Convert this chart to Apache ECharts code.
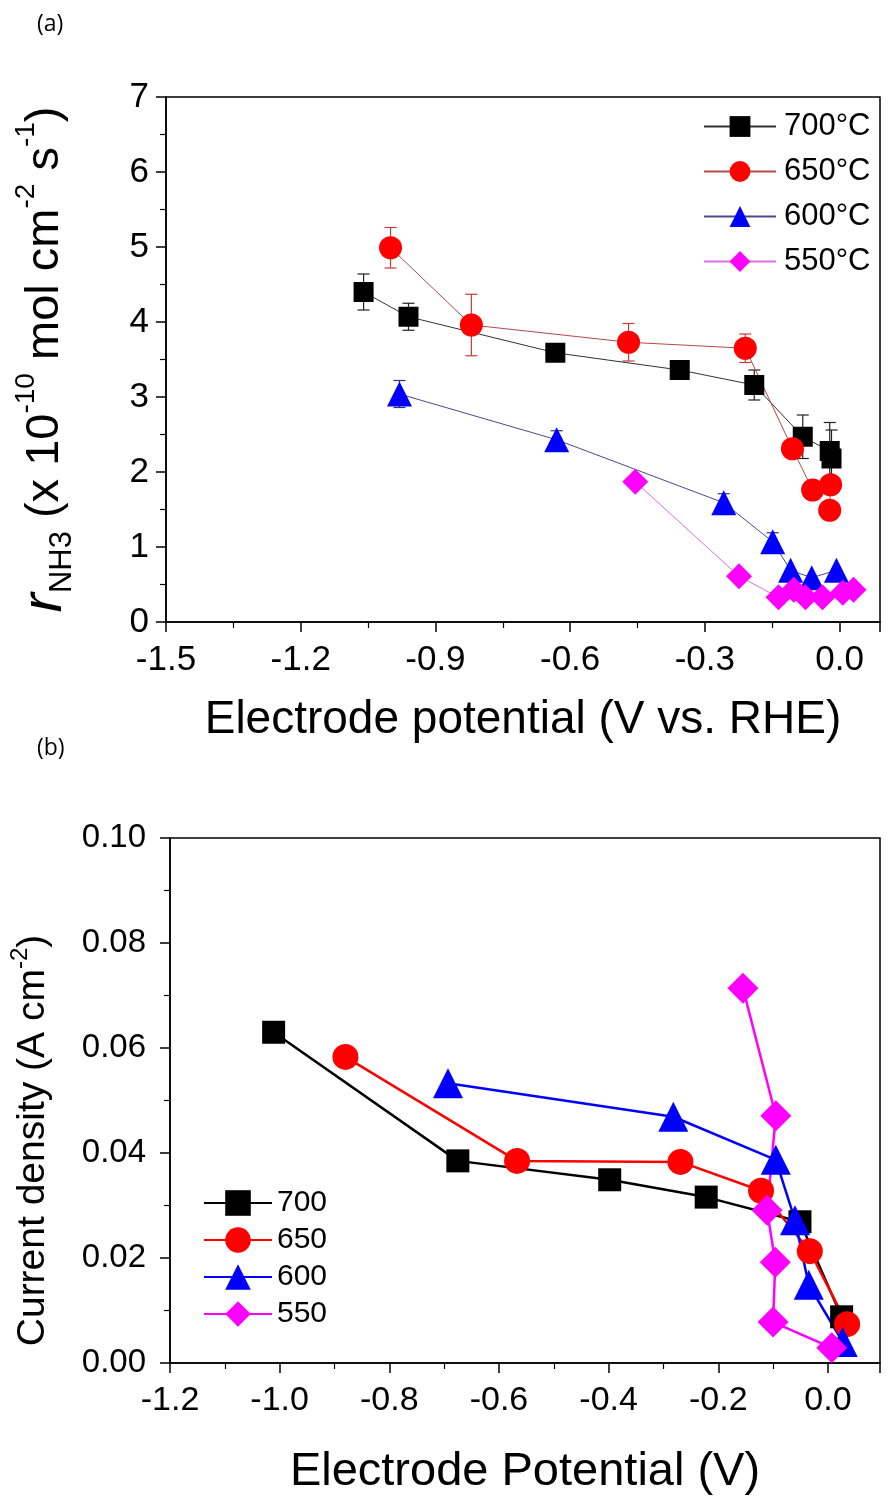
<!DOCTYPE html>
<html>
<head>
<meta charset="utf-8">
<script src="https://cdn.jsdelivr.net/npm/echarts@6/dist/echarts.min.js"></script>
<style>
  html, body { margin: 0; padding: 0; background: #fff; }
  #chart { width: 890px; height: 1500px; }
</style>
</head>
<body>
<div id="chart"></div>
<script>
// panel (a): NH3 formation rate vs electrode potential
const aNames = ['700°C', '650°C', '600°C', '550°C'];
const aX700 = [-1.06, -0.96, -0.633, -0.356, -0.19, -0.082, -0.022, -0.018];
const aY700 = [4.40, 4.07, 3.59, 3.36, 3.16, 2.47, 2.28, 2.18];
const aE700 = [0.24, 0.18, 0.05, 0.05, 0.20, 0.29, 0.38, 0.38];
const aX650 = [-1.0, -0.82, -0.47, -0.21, -0.105, -0.06, -0.02, -0.022];
const aY650 = [4.99, 3.96, 3.73, 3.65, 2.31, 1.76, 1.83, 1.49];
const aE650 = [0.27, 0.41, 0.25, 0.19, 0, 0, 0, 0];
const aX600 = [-0.98, -0.63, -0.258, -0.149, -0.109, -0.062, -0.007];
const aY600 = [3.04, 2.43, 1.59, 1.07, 0.69, 0.59, 0.69];
const aE600 = [0.18, 0.12, 0.12, 0.12, 0, 0, 0];
const aX550 = [-0.455, -0.224, -0.136, -0.102, -0.076, -0.038, 0.007, 0.031];
const aY550 = [1.87, 0.61, 0.33, 0.43, 0.33, 0.33, 0.39, 0.43];

// panel (b): current density vs electrode potential
const bNames = ['700', '650', '600', '550'];
const bX700 = [-1.011, -0.675, -0.398, -0.222, -0.051, 0.025];
const bY700 = [0.0630, 0.0385, 0.0349, 0.0316, 0.0269, 0.0088];
const bX650 = [-0.88, -0.567, -0.269, -0.122, -0.033, 0.035];
const bY650 = [0.0583, 0.0385, 0.0383, 0.0328, 0.0213, 0.0074];
const bX600 = [-0.693, -0.282, -0.095, -0.06, -0.035, 0.027];
const bY600 = [0.0533, 0.0469, 0.0387, 0.0272, 0.0149, 0.0040];
const bX550 = [-0.155, -0.095, -0.111, -0.096, -0.1, 0.007];
const bY550 = [0.0714, 0.0471, 0.0291, 0.0192, 0.0078, 0.0029];

const FONT = '"Liberation Sans", Arial, sans-serif';
const zip = (xs, ys) => xs.map((x, i) => [x, ys[i]]);
const zip3 = (xs, ys, es) => xs.map((x, i) => [x, ys[i], es[i]]).filter(d => d[2] > 0);

function errBars(data, color) {
  return {
    type: 'custom',
    xAxisIndex: 0, yAxisIndex: 0,
    z: 1,
    silent: true,
    data: data,
    encode: { x: 0, y: 1 },
    renderItem: (params, api) => {
      const x = api.value(0), y = api.value(1), e = api.value(2);
      const hi = api.coord([x, y + e]);
      const lo = api.coord([x, y - e]);
      const st = { stroke: color, lineWidth: 1.2 };
      return {
        type: 'group',
        children: [
          { type: 'line', shape: { x1: hi[0], y1: hi[1], x2: lo[0], y2: lo[1] }, style: st },
          { type: 'line', shape: { x1: hi[0] - 6, y1: hi[1], x2: hi[0] + 6, y2: hi[1] }, style: st },
          { type: 'line', shape: { x1: lo[0] - 6, y1: lo[1], x2: lo[0] + 6, y2: lo[1] }, style: st }
        ]
      };
    }
  };
}

function lineA(name, data, color, lineColor, symbol, size) {
  return {
    name: name, type: 'line', xAxisIndex: 0, yAxisIndex: 0,
    data: data, symbol: symbol, symbolSize: size, z: 3,
    itemStyle: { color: color },
    lineStyle: { color: lineColor, width: 1 },
    emphasis: { disabled: true }
  };
}

function lineB(name, data, color, symbol, size) {
  return {
    name: name, type: 'line', xAxisIndex: 1, yAxisIndex: 1,
    data: data, symbol: symbol, symbolSize: size, z: 3,
    itemStyle: { color: color },
    lineStyle: { color: color, width: 2.5 },
    emphasis: { disabled: true }
  };
}

const axisCommon = {
  axisLine: { show: true, onZero: false, lineStyle: { color: '#000', width: 1.5 } },
  axisTick: { show: true, inside: false, length: 10, lineStyle: { color: '#000', width: 1.5 } },
  minorTick: { show: true, splitNumber: 2, length: 6, lineStyle: { color: '#000', width: 1.2 } },
  splitLine: { show: false },
  minorSplitLine: { show: false }
};

function tickFmt(step, digits, lo, hi) {
  return v => {
    const k = Math.round(v / step);
    if (Math.abs(v - k * step) > 1e-6 || v > hi + 1e-6 || v < lo - 1e-6) return '';
    const r = k * step;
    return (Math.abs(r) < 1e-9 ? 0 : r).toFixed(digits);
  };
}

const chart = echarts.init(document.getElementById('chart'));

chart.setOption({
  backgroundColor: '#fff',
  animation: false,
  textStyle: { fontFamily: FONT },
  title: [
    { text: '(a)', left: 32, top: 8, textStyle: { fontFamily: '"Open Sans", sans-serif', fontSize: 23, fontWeight: 'normal', color: '#000' } },
    { text: '(b)', left: 32, top: 732, textStyle: { fontFamily: '"Open Sans", sans-serif', fontSize: 23, fontWeight: 'normal', color: '#000' } }
  ],
  grid: [
    { left: 166, top: 97, width: 714, height: 525, show: true, borderColor: '#000', borderWidth: 1.5, backgroundColor: 'transparent' },
    { left: 168, top: 838, width: 712, height: 525, show: true, borderColor: '#000', borderWidth: 1.5, backgroundColor: 'transparent' }
  ],
  legend: [
    {
      data: aNames, orient: 'vertical', left: 698, top: 106,
      itemWidth: 72, itemHeight: 26, itemGap: 14,
      textStyle: { fontFamily: FONT, fontSize: 31, lineHeight: 30, color: '#000', padding: [0, 0, 0, 3] },
      selectedMode: false
    },
    {
      data: bNames, orient: 'vertical', left: 198, top: 1183,
      itemWidth: 68, itemHeight: 32, itemGap: 7,
      textStyle: { fontFamily: FONT, fontSize: 30, lineHeight: 28, color: '#000' },
      selectedMode: false
    }
  ],
  xAxis: [
    Object.assign({}, axisCommon, {
      type: 'value', gridIndex: 0, min: -1.5, max: 0.09, interval: 0.3,
      axisLabel: { fontSize: 35, color: '#000', margin: 21, formatter: tickFmt(0.3, 1, -1.5, 0) },
      name: 'Electrode potential (V vs. RHE)', nameLocation: 'middle', nameGap: 75,
      nameTextStyle: { fontSize: 46, color: '#000', fontFamily: FONT }
    }),
    Object.assign({}, axisCommon, {
      type: 'value', gridIndex: 1, min: -1.2, max: 0.095, interval: 0.2,
      axisLabel: { fontSize: 34, color: '#000', margin: 21, formatter: tickFmt(0.2, 1, -1.2, 0) },
      name: 'Electrode Potential (V)', nameLocation: 'middle', nameGap: 86,
      nameTextStyle: { fontSize: 47, color: '#000', fontFamily: FONT }
    })
  ],
  yAxis: [
    Object.assign({}, axisCommon, {
      type: 'value', gridIndex: 0, min: 0, max: 7, interval: 1,
      axisLabel: { fontSize: 35, color: '#000', margin: 17, formatter: tickFmt(1, 0, 0, 7) },
      name: '{r|r}{sub|NH3}{b| (x 10}{sup|-10}{b| mol cm}{sup|-2}{b| s}{sup|-1}{b|)}',
      nameLocation: 'middle', nameRotate: 90, nameGap: 88,
      nameTextStyle: {
        fontFamily: FONT, color: '#000',
        rich: {
          r: { fontSize: 58, fontStyle: 'italic', lineHeight: 66, fontFamily: FONT, color: '#000' },
          b: { fontSize: 47, lineHeight: 66, fontFamily: FONT, color: '#000' },
          sub: { fontSize: 31, lineHeight: 31, verticalAlign: 'bottom', fontFamily: FONT, color: '#000' },
          sup: { fontSize: 28, lineHeight: 28, verticalAlign: 'top', fontFamily: FONT, color: '#000' }
        }
      }
    }),
    Object.assign({}, axisCommon, {
      type: 'value', gridIndex: 1, min: 0, max: 0.1, interval: 0.02,
      axisLabel: { fontSize: 33, color: '#000', margin: 24, formatter: tickFmt(0.02, 2, 0, 0.1) },
      name: '{b|Current density (A cm}{sup|-2}{b|)}',
      nameLocation: 'middle', nameRotate: 90, nameGap: 112,
      nameTextStyle: {
        fontFamily: FONT, color: '#000', padding: [0, 80, 0, 0],
        rich: {
          b: { fontSize: 39, lineHeight: 50, fontFamily: FONT, color: '#000' },
          sup: { fontSize: 24, lineHeight: 24, verticalAlign: 'top', fontFamily: FONT, color: '#000' }
        }
      }
    })
  ],
  series: [
    errBars(zip3(aX700, aY700, aE700), '#222'),
    errBars(zip3(aX650, aY650, aE650), '#c43c3c'),
    errBars(zip3(aX600, aY600, aE600), '#303080'),
    lineA(aNames[0], zip(aX700, aY700), '#000', '#333', 'rect', 20),
    lineA(aNames[1], zip(aX650, aY650), '#ff0000', '#b84848', 'circle', 23),
    lineA(aNames[2], zip(aX600, aY600), '#0000ff', '#4a4a90', 'triangle', 25),
    lineA(aNames[3], zip(aX550, aY550), '#ff00ff', '#e070e0', 'diamond', 26),
    lineB(bNames[0], zip(bX700, bY700), '#000', 'rect', 23),
    lineB(bNames[1], zip(bX650, bY650), '#ff0000', 'circle', 26),
    lineB(bNames[2], zip(bX600, bY600), '#0000ff', 'triangle', 30),
    lineB(bNames[3], zip(bX550, bY550), '#ff00ff', 'diamond', 31)
  ]
});
</script>
</body>
</html>
